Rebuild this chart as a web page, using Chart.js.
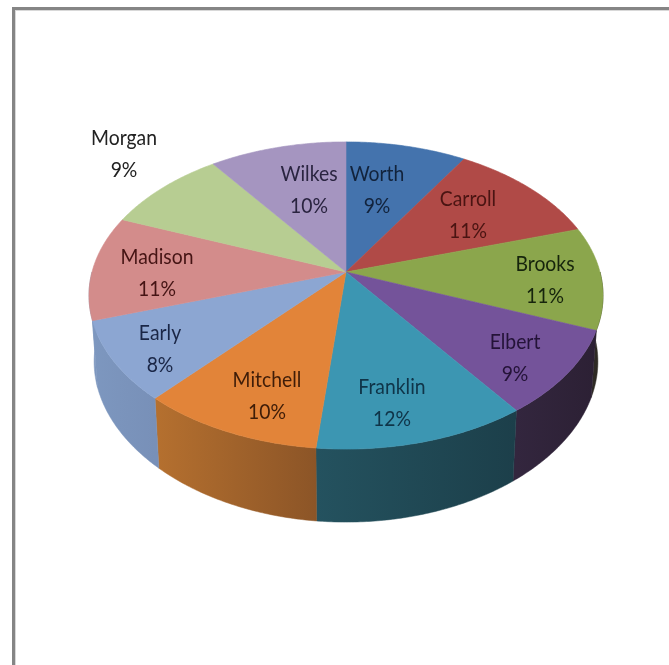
<!DOCTYPE html>
<html>
<head>
<meta charset="utf-8">
<style>
  html, body { margin: 0; padding: 0; background: #fff; overflow: hidden; }
  #marco { position: absolute; left: 12px; top: 7px; width: 657px; height: 658px; box-sizing: border-box; border-left: 3px solid #858585; border-top: 3px solid #858585; box-shadow: inset 1px 1px 0 #d8d8d8; }
  #chartPrincipal { position: absolute; left: 0; top: 0; }
</style>
<script src="https://cdn.jsdelivr.net/npm/chart.js@4"></script>
</head>
<body>
<div id="marco"></div>
<canvas id="chartPrincipal" width="669" height="665"></canvas>
<script>
const condados = ['Worth', 'Carroll', 'Brooks', 'Elbert', 'Franklin', 'Mitchell', 'Early', 'Madison', 'Morgan', 'Wilkes'];
const porcentajes = [8.8, 11.4, 10.8, 9, 11.6, 10, 8.4, 11, 9, 10];
const coloresTapa = ['#4473ad', '#b04a47', '#8ba64c', '#74539a', '#3c96b2', '#e28439', '#8ca6d2', '#d38c8b', '#b7cd92', '#a595c0'];
const ladoIzq = ['#35598a', '#893a38', '#2e2a24', '#33263e', '#24525f', '#b5702f', '#7d97bf', '#8a98b0', '#8fa072', '#817495'];
const ladoDer = ['#35598a', '#893a38', '#2a2820', '#2c2034', '#1c3f4a', '#8c5527', '#7890b8', '#7d97bf', '#8fa072', '#817495'];
const coloresTexto = ['#12233c', '#4a1412', '#16240c', '#241338', '#0f3448', '#3f1d08', '#1a2646', '#451414', '#222222', '#2a2440'];

// centro de cada etiqueta (x, y entre las dos líneas)
const posEtiquetas = [[377, 190], [468, 215], [545, 280], [515, 358], [392, 403], [267, 396], [160, 349], [157, 273], [124, 154], [309, 190]];

// perspectiva del disco: el centro de la tarta no cae en el centro de la elipse
const cx = 346, cy = 272, rx = 254, ry = 150, fuga = 0.153;
const grosor = 73, estrechaBase = 0.98;

function proyectar(angulo, base) {
    // angulo de Chart.js: -PI/2 es las 12
    const u = Math.cos(angulo);
    const v = Math.sin(angulo);
    const d = 1 - fuga * v;
    const x = rx * u / d;
    const y = cy + ry * v / d;
    if (!base) return { x: cx + x, y: y };
    return { x: cx + x * estrechaBase, y: y + grosor - 7 * u * u };
}

function trazarBorde(ctx, ini, fin, base) {
    const pasos = Math.max(2, Math.ceil(Math.abs(fin - ini) / 0.01));
    for (let i = 0; i <= pasos; i++) {
        const p = proyectar(ini + (fin - ini) * i / pasos, base);
        ctx.lineTo(p.x, p.y);
    }
}

const tarta3d = {
    id: 'tarta3d',
    beforeDatasetDraw(chart, args) {
        const ctx = chart.ctx;
        const arcos = chart.getDatasetMeta(args.index).data;
        ctx.save();
        // primero los lados, solo la parte de delante del disco
        arcos.forEach((arco, i) => {
            const ini = Math.max(arco.startAngle, 0);
            const fin = Math.min(arco.endAngle, Math.PI);
            if (fin <= ini) return;
            const a = proyectar(ini), b = proyectar(fin);
            // el borde derecho de la pantalla es el inicio del arco
            const grad = ctx.createLinearGradient(b.x, 0, a.x, 0);
            grad.addColorStop(0, ladoIzq[i]);
            grad.addColorStop(1, ladoDer[i]);
            ctx.beginPath();
            trazarBorde(ctx, ini, fin, false);
            trazarBorde(ctx, fin, ini, true);
            ctx.closePath();
            ctx.fillStyle = grad;
            ctx.strokeStyle = grad;
            ctx.lineWidth = 0.5;
            ctx.fill();
            ctx.stroke();
        });
        // luego la tapa
        arcos.forEach((arco, i) => {
            ctx.beginPath();
            ctx.moveTo(cx, cy);
            trazarBorde(ctx, arco.startAngle, arco.endAngle, false);
            ctx.closePath();
            ctx.fillStyle = coloresTapa[i];
            ctx.strokeStyle = coloresTapa[i];
            ctx.lineWidth = 0.6;
            ctx.fill();
            ctx.stroke();
        });
        ctx.restore();
        return false; // la tarta plana de Chart.js no se pinta
    },
    afterDatasetsDraw(chart) {
        const ctx = chart.ctx;
        ctx.save();
        ctx.font = '22px Lato, sans-serif';
        ctx.textAlign = 'center';
        ctx.textBaseline = 'middle';
        condados.forEach((nombre, i) => {
            const p = posEtiquetas[i];
            ctx.save();
            ctx.translate(p[0], p[1]);
            ctx.scale(0.88, 1); // la letra original es más estrecha
            ctx.fillStyle = coloresTexto[i];
            ctx.fillText(nombre, 0, -16);
            ctx.fillText(Math.round(porcentajes[i]) + '%', 0, 16);
            ctx.restore();
        });
        ctx.restore();
    }
};

function dibujarGrafica() {
    const ctx = document.getElementById('chartPrincipal').getContext('2d');
    new Chart(ctx, {
        type: 'pie',
        data: {
            labels: condados,
            datasets: [{ data: porcentajes, backgroundColor: coloresTapa, borderWidth: 0 }]
        },
        options: {
            responsive: false,
            animation: false,
            plugins: {
                legend: { display: false },
                tooltip: { enabled: false }
            }
        },
        plugins: [tarta3d]
    });
}

window.onload = dibujarGrafica;
</script>
</body>
</html>
